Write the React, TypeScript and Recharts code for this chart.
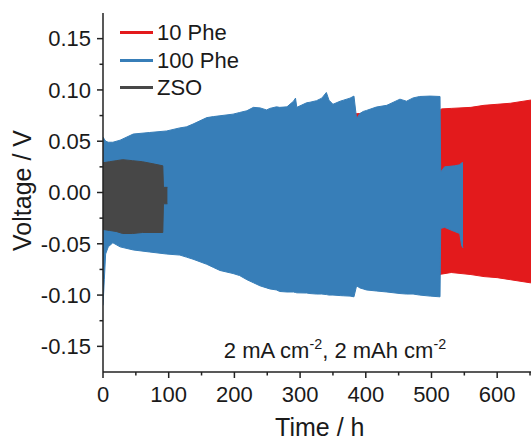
import React from "react";
import { Area, ComposedChart, Legend, XAxis, YAxis } from "recharts";

const FONT = '"Liberation Sans", Arial, Helvetica, sans-serif';
const INK = "#1a1a1a";

const RED = "#e31a1c";
const BLUE = "#377eb8";
const GRAY = "#474747";

// 10 Phe (runs the whole test, mostly hidden behind 100 Phe)
const phe10Time = [0, 100, 200, 300, 380, 390, 420, 513, 515, 530, 560, 580, 600, 620, 650, 670];
const phe10Low = [-0.044, -0.055, -0.07, -0.08, -0.085, -0.085, -0.086, -0.08, -0.0796, -0.078, -0.08, -0.082, -0.083, -0.085, -0.088, -0.089];
const phe10High = [0.044, 0.05, 0.065, 0.072, 0.0765, 0.077, 0.078, 0.08, 0.0815, 0.082, 0.083, 0.085, 0.086, 0.087, 0.09, 0.091];

// 100 Phe
const phe100Time = [
  0, 2, 4, 8, 15, 26, 46, 71, 97, 117, 127, 137, 158, 168, 178, 198, 208, 219, 229, 239,
  249, 254, 264, 269, 280, 290, 293, 295, 310, 315, 325, 333, 340, 344, 350, 361, 366, 376,
  382, 386, 391, 396, 401, 416, 432, 452, 462, 472, 482, 498, 513,
  514, 520, 535, 543, 546, 548,
];
const phe100Low = [
  -0.11, -0.085, -0.06, -0.053, -0.049, -0.053, -0.056, -0.058, -0.06, -0.061, -0.063, -0.065, -0.07, -0.073, -0.076, -0.079, -0.081, -0.085, -0.088, -0.091,
  -0.093, -0.094, -0.095, -0.0965, -0.097, -0.097, -0.0975, -0.0978, -0.098, -0.0985, -0.099, -0.099, -0.0995, -0.1, -0.1, -0.1005, -0.1007, -0.101,
  -0.1017, -0.091, -0.093, -0.094, -0.095, -0.096, -0.097, -0.0985, -0.099, -0.099, -0.1, -0.101, -0.1017,
  -0.035, -0.034, -0.038, -0.04, -0.052, -0.054,
];
const phe100High = [
  0.054, 0.052, 0.05, 0.049, 0.049, 0.051, 0.057, 0.0585, 0.06, 0.063, 0.064, 0.0667, 0.073, 0.074, 0.0748, 0.0764, 0.078, 0.0797, 0.083, 0.0825,
  0.0805, 0.082, 0.0835, 0.083, 0.0835, 0.089, 0.092, 0.083, 0.0875, 0.088, 0.0895, 0.092, 0.0975, 0.09, 0.086, 0.089, 0.09, 0.092,
  0.094, 0.072, 0.077, 0.079, 0.08, 0.0833, 0.085, 0.091, 0.089, 0.0922, 0.0936, 0.094, 0.0936,
  0.02, 0.025, 0.026, 0.027, 0.029, 0.029,
];

// ZSO
const zsoTime = [0, 10, 20, 30, 45, 60, 76, 91, 92, 98];
const zsoLow = [-0.036, -0.037, -0.038, -0.04, -0.04, -0.039, -0.039, -0.039, -0.011, -0.011];
const zsoHigh = [0.029, 0.03, 0.031, 0.032, 0.031, 0.03, 0.028, 0.026, 0.005, 0.005];

const majorX = [0, 100, 200, 300, 400, 500, 600];
const minorX = [50, 150, 250, 350, 450, 550, 650];
const majorY = [-0.15, -0.1, -0.05, 0, 0.05, 0.1, 0.15];
const minorY = [-0.125, -0.075, -0.025, 0.025, 0.075, 0.125];

const toRows = (time: number[], low: number[], high: number[]) =>
  time.map((t, i) => ({ t, v: [low[i], high[i]] }));

const series = [
  { name: "10 Phe", color: RED, data: toRows(phe10Time, phe10Low, phe10High) },
  { name: "100 Phe", color: BLUE, data: toRows(phe100Time, phe100Low, phe100High) },
  { name: "ZSO", color: GRAY, data: toRows(zsoTime, zsoLow, zsoHigh) },
];

const isIn = (v: number, list: number[]) => list.some((m) => Math.abs(m - v) < 1e-9);

function XTick(props: any) {
  const { x, y, payload } = props;
  const major = isIn(payload.value, majorX);
  return (
    <g>
      <line x1={x} x2={x} y1={y} y2={y + (major ? 6 : 3.5)} stroke="#222" strokeWidth={1.5} />
      {major && (
        <text x={x} y={y + 14} dy="0.71em" textAnchor="middle" fontSize={22} fontFamily={FONT} fill={INK}>
          {payload.value}
        </text>
      )}
    </g>
  );
}

function YTick(props: any) {
  const { x, y, payload } = props;
  const major = isIn(payload.value, majorY);
  const label = Math.abs(payload.value) < 1e-9 ? "0.00" : payload.value.toFixed(2);
  return (
    <g>
      <line x1={x - (major ? 6 : 3.5)} x2={x} y1={y} y2={y} stroke="#222" strokeWidth={1.5} />
      {major && (
        <text x={x - 12} y={y} dy="0.355em" textAnchor="end" fontSize={22} fontFamily={FONT} fill={INK}>
          {label}
        </text>
      )}
    </g>
  );
}

function LegendBox() {
  return (
    <div style={{ fontFamily: FONT, fontSize: 22, color: INK }}>
      {series.map((s) => (
        <div key={s.name} style={{ display: "flex", alignItems: "center", height: 27.5, lineHeight: "27.5px" }}>
          <span style={{ display: "inline-block", width: 33, height: 3, background: s.color, marginRight: 4 }} />
          <span>{s.name}</span>
        </div>
      ))}
    </div>
  );
}

const sup = { fontSize: "0.65em", verticalAlign: "0.6em", lineHeight: 0 } as const;

export default function App() {
  return (
    <div style={{ position: "fixed", left: 0, top: 0, width: 531, height: 441, overflow: "hidden", background: "#fff" }}>
      <ComposedChart width={560} height={441} margin={{ top: 13, right: 23.4, bottom: 0, left: 0 }}>
        <XAxis
          xAxisId="top"
          orientation="top"
          type="number"
          dataKey="t"
          domain={[0, 660]}
          height={0}
          tick={false}
          tickLine={false}
          axisLine={{ stroke: "#222", strokeWidth: 1.5 }}
        />
        <XAxis
          type="number"
          dataKey="t"
          domain={[0, 660]}
          allowDataOverflow
          ticks={[...majorX, ...minorX].sort((a, b) => a - b)}
          interval={0}
          tick={(p: any) => <XTick {...p} />}
          tickSize={0}
          tickMargin={0}
          tickLine={false}
          height={69}
          axisLine={{ stroke: "#222", strokeWidth: 1.5 }}
          label={{
            content: (p: any) => {
              const vb = p.viewBox;
              return (
                <text x={vb.x + vb.width / 2} y={vb.y + 64} textAnchor="middle" fontSize={25} fontFamily={FONT} fill={INK}>
                  Time / h
                </text>
              );
            },
          }}
        />
        <YAxis
          type="number"
          domain={[-0.175, 0.175]}
          allowDataOverflow
          ticks={[...majorY, ...minorY].sort((a, b) => a - b)}
          interval={0}
          tick={(p: any) => <YTick {...p} />}
          tickSize={0}
          tickMargin={0}
          tickLine={false}
          width={103}
          axisLine={{ stroke: "#222", strokeWidth: 1.5 }}
          label={{
            content: (p: any) => {
              const vb = p.viewBox;
              const cx = 31;
              const cy = vb.y + vb.height / 2 - 2;
              return (
                <text x={cx} y={cy} transform={`rotate(-90 ${cx} ${cy})`} textAnchor="middle" fontSize={25} fontFamily={FONT} fill={INK}>
                  Voltage / V
                </text>
              );
            },
          }}
        />
        {series.map((s) => (
          <Area
            key={s.name}
            name={s.name}
            data={s.data}
            dataKey="v"
            type="linear"
            fill={s.color}
            fillOpacity={1}
            stroke={s.color}
            strokeWidth={1}
            isAnimationActive={false}
            dot={false}
            activeDot={false}
          />
        ))}
        <Legend
          layout="vertical"
          align="center"
          verticalAlign="middle"
          content={() => <LegendBox />}
          wrapperStyle={{ top: 19, left: 120, width: "auto" }}
        />
      </ComposedChart>
      <div
        style={{
          position: "absolute",
          left: 185,
          top: 339.5,
          width: 300,
          textAlign: "center",
          fontFamily: FONT,
          fontSize: 22,
          lineHeight: "22px",
          color: INK,
          whiteSpace: "nowrap",
        }}
      >
        2 mA cm<span style={sup}>-2</span>, 2 mAh cm<span style={sup}>-2</span>
      </div>
    </div>
  );
}
